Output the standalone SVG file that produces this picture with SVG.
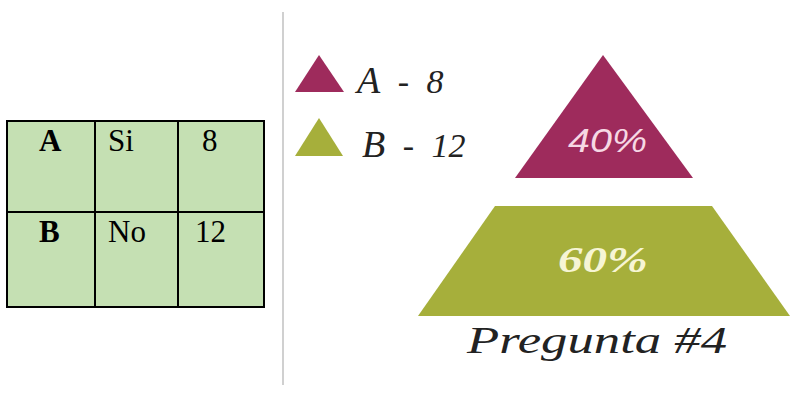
<svg xmlns="http://www.w3.org/2000/svg" width="791" height="395" viewBox="0 0 791 395">
<style>
.cell{fill:#C5E0B3;stroke:#000;stroke-width:2}
</style>
<rect width="791" height="395" fill="#fff"/>
<g id="table">
<rect class="cell" x="7" y="121" width="88" height="91"/>
<rect class="cell" x="95" y="121" width="83" height="91"/>
<rect class="cell" x="178" y="121" width="86" height="91"/>
<rect class="cell" x="7" y="212" width="88" height="95"/>
<rect class="cell" x="95" y="212" width="83" height="95"/>
<rect class="cell" x="178" y="212" width="86" height="95"/>
<g font-family="Liberation Serif, Times New Roman, serif" font-size="31" fill="#000">
<text x="39" y="151" font-weight="bold">A</text>
<text x="108" y="151">Si</text>
<text x="202" y="151">8</text>
<text x="39" y="242" font-weight="bold">B</text>
<text x="108" y="242">No</text>
<text x="195" y="242">12</text>
</g>
</g>
<line x1="283" y1="12" x2="283" y2="385" stroke="#d0d0d0" stroke-width="2"/>
<g id="legend-a">
<polygon points="319,55 295,92 344,92" fill="#9E2B5C"/>
<text x="357" y="93" font-family="Liberation Serif, DejaVu Serif, serif" font-style="italic" font-size="34" fill="#222" word-spacing="9"><tspan font-size="38">A</tspan> - 8</text>
</g>
<g id="legend-b">
<polygon points="319,118 295,156 343,156" fill="#A6AF3B"/>
<text x="362" y="157" font-family="Liberation Serif, DejaVu Serif, serif" font-style="italic" font-size="34" fill="#222" word-spacing="9"><tspan font-size="38">B</tspan> - 12</text>
</g>
<g id="top">
<polygon points="603,55 515,178 693,178" fill="#9E2B5C"/>
<text x="568" y="152" fill="#F6D8E4" font-family="Liberation Sans, Arial, sans-serif" font-style="italic" font-size="33" textLength="79" lengthAdjust="spacingAndGlyphs">40%</text>
</g>
<g id="bottom">
<polygon points="495,206 712,206 790,316 418,316" fill="#A6AF3B"/>
<text x="558" y="272" fill="#F6F5D4" font-family="Liberation Serif, DejaVu Serif, serif" font-style="italic" font-weight="bold" font-size="36" textLength="90" lengthAdjust="spacingAndGlyphs">60%</text>
</g>
<text x="467" y="353" font-family="Liberation Serif, DejaVu Serif, serif" font-style="italic" font-size="38" fill="#222" textLength="260" lengthAdjust="spacingAndGlyphs">Pregunta #4</text>
</svg>
